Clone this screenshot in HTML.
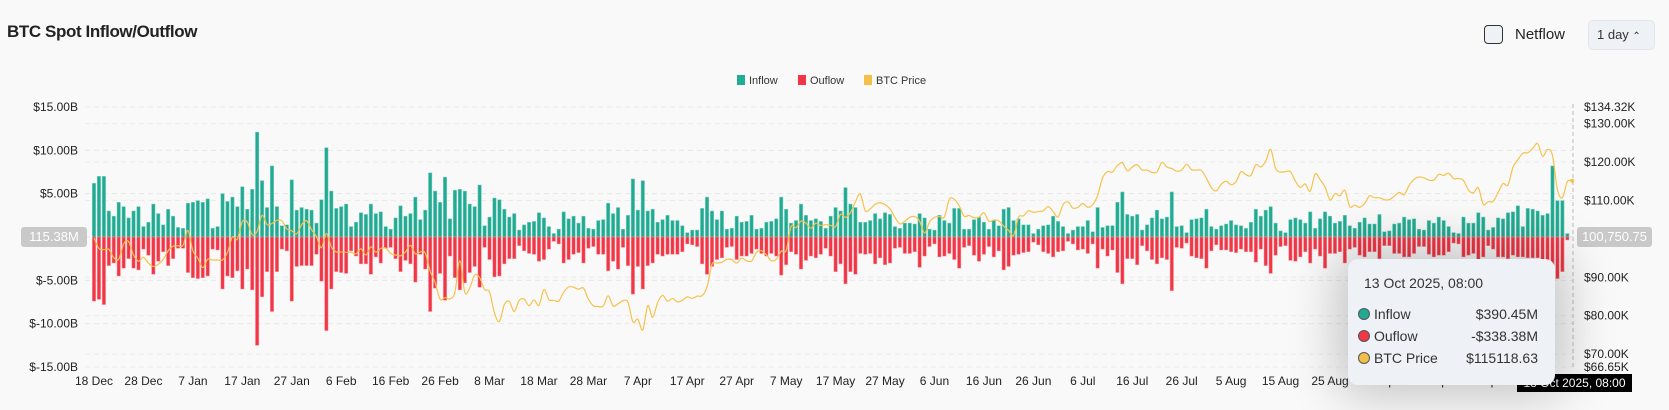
<!DOCTYPE html>
<html><head><meta charset="utf-8">
<style>
html,body{margin:0;padding:0;background:#f9f9f9;}
body{width:1669px;height:410px;position:relative;overflow:hidden;font-family:"Liberation Sans",sans-serif;color:#222;}
.abs{position:absolute;}
</style></head>
<body>
<div class="abs" style="left:7px;top:22px;font-size:17px;font-weight:bold;letter-spacing:-0.4px;">BTC Spot Inflow/Outflow</div>
<div class="abs" style="left:1484px;top:25px;width:17px;height:17px;border:1.5px solid #333;border-radius:4px;background:#eef1f5;"></div>
<div class="abs" style="left:1515px;top:26px;font-size:15px;color:#222;">Netflow</div>
<div class="abs" style="left:1588px;top:20px;width:67px;height:30px;background:#eef1f5;border-radius:5px;border:1px solid #e2e6ea;box-sizing:border-box;font-size:13px;line-height:28px;padding-left:8px;color:#333;">1 day <span style="font-size:10px;">⌃</span></div>

<svg class="abs" style="left:0;top:0" width="1669" height="410" id="chart">
  <g id="legend" font-size="11" fill="#333">
    <rect x="737" y="75" width="8" height="10" fill="#22ab94"/>
    <text x="749" y="84">Inflow</text>
    <rect x="798" y="75" width="8" height="10" fill="#f23645"/>
    <text x="810" y="84">Ouflow</text>
    <rect x="864" y="75" width="8" height="10" fill="#f2bf48"/>
    <text x="876" y="84">BTC Price</text>
  </g>
  <g id="grid"></g>
  <g id="axes" font-size="12" fill="#222"></g>
  <g id="bars"></g>
  <g id="line"></g>
  <g id="labels" font-size="12" fill="#222"></g>
</svg>

<div class="abs" style="left:21px;top:227px;width:66px;height:20px;background:#c9c9c9;border-radius:3px;color:#fff;font-size:13px;line-height:20px;text-align:center;">115.38M</div>
<div class="abs" style="left:1577px;top:227px;width:75px;height:20px;background:#c9c9c9;border-radius:3px;color:#fff;font-size:13px;line-height:20px;text-align:center;">100,750.75</div>
<div class="abs" style="left:1517px;top:374px;width:115px;height:18px;background:#000;color:#fff;font-size:12px;line-height:18px;text-align:center;">13 Oct 2025, 08:00</div>

<div class="abs" style="left:1348px;top:259px;width:207px;height:126px;background:#eef1f5;border-radius:10px;box-shadow:0 0 50px 10px rgba(0,0,0,0.22);font-size:14px;color:#333;">
  <div class="abs" style="left:16px;top:16px;">13 Oct 2025, 08:00</div>
  <div class="abs" style="left:10px;top:49px;width:10px;height:10px;border-radius:50%;background:#22ab94;border:1px solid #555;"></div>
  <div class="abs" style="left:26px;top:47px;">Inflow</div>
  <div class="abs" style="right:17px;top:47px;">$390.45M</div>
  <div class="abs" style="left:10px;top:71px;width:10px;height:10px;border-radius:50%;background:#f23645;border:1px solid #555;"></div>
  <div class="abs" style="left:26px;top:69px;">Ouflow</div>
  <div class="abs" style="right:17px;top:69px;">-$338.38M</div>
  <div class="abs" style="left:10px;top:93px;width:10px;height:10px;border-radius:50%;background:#f2bf48;border:1px solid #555;"></div>
  <div class="abs" style="left:26px;top:91px;">BTC Price</div>
  <div class="abs" style="right:17px;top:91px;">$115118.63</div>
</div>

<script>
const inflow = [6.2,7.0,7.0,3.0,2.4,4.0,3.5,2.2,3.0,3.5,1.2,1.7,3.8,2.7,1.4,3.2,2.4,1.1,1.0,3.9,4.0,4.2,4.0,4.4,1.0,1.2,5.0,4.1,4.6,3.5,5.8,3.2,5.5,12.1,6.5,3.4,8.2,3.5,1.3,1.4,6.6,3.1,3.4,3.2,3.1,1.6,4.3,10.3,5.3,3.3,3.5,3.8,1.2,1.7,2.8,2.6,3.8,2.7,2.9,1.2,0.9,2.2,3.6,2.4,2.7,4.6,
2.0,
3.1,7.4,5.3,4.0,6.9,2.1,5.4,5.5,5.3,3.8,3.5,6.0,1.3,2.3,4.5,4.3,3.2,2.3,2.7,0.8,1.4,1.7,1.8,2.8,2.2,1.2,0.4,0.9,2.9,2.1,2.4,1.6,2.4,1.0,0.9,1.9,2.0,3.9,2.7,3.4,0.9,2.5,6.7,3.1,6.5,3.0,3.2,1.7,2.0,2.5,1.9,1.9,1.3,0.5,0.8,0.8,3.3,4.6,3.0,2.0,3.0,0.9,1.0,2.4,1.7,1.8,2.5,
0.9,1.0,1.7,1.8,2.1,4.6,3.2,1.6,1.9,3.8,2.5,1.9,2.1,1.8,1.0,2.4,3.4,3.0,5.7,3.8,3.4,1.7,1.7,1.9,2.7,2.1,2.8,2.6,1.2,1.0,1.6,1.6,1.5,2.7,2.2,0.9,0.8,2.5,1.9,1.6,3.3,3.3,0.9,0.9,2.0,2.3,1.7,0.9,1.9,1.3,3.2,3.4,1.9,2.1,1.4,1.4,0.4,0.9,1.3,1.4,2.4,1.8,1.2,0.4,0.8,1.2,1.2,1.9,0.6,3.4,1.1,1.3,
1.3,4.0,5.2,2.6,2.4,2.6,0.8,1.4,2.2,3.1,2.1,2.3,5.2,1.2,1.3,0.5,2.0,2.1,2.2,3.2,1.2,0.9,1.3,1.5,1.9,1.4,1.3,
1.0,1.7,3.2,2.4,3.1,3.5,1.6,0.7,0.5,2.0,2.2,2.0,1.6,2.9,1.0,2.1,2.9,2.4,1.6,1.8,2.5,1.3,1.0,1.7,2.2,1.5,1.5,2.6,0.6,0.7,1.5,1.6,2.3,2.0,2.1,0.9,0.8,1.9,1.6,2.3,1.9,1.2,0.5,0.4,2.3,1.6,1.6,2.8,2.3,0.8,1.1,2.2,2.1,2.8,2.9,3.6,1.2,3.3,3.2,3.0,2.5,2.7,8.2,4.2,4.2,0.39];
const outflow = [7.4,7.2,7.8,3.3,3.0,4.5,3.6,2.5,3.6,3.8,1.4,2.1,4.3,2.8,1.7,3.3,2.5,1.3,1.3,4.1,4.7,4.8,4.7,4.5,1.4,1.5,6.0,4.5,4.7,3.9,6.0,3.7,6.1,12.5,6.9,4.0,8.6,4.0,1.4,1.6,7.4,3.4,3.3,3.3,3.3,2.0,5.1,10.8,6.0,4.0,4.1,4.2,1.6,2.2,3.1,3.1,4.3,2.3,3.0,1.3,1.2,2.5,4.0,2.7,3.1,5.2,
2.0,
3.7,8.6,5.9,4.2,7.3,2.2,4.7,6.1,5.3,4.1,3.4,5.8,1.2,2.6,4.6,4.5,3.1,2.5,2.5,1.0,1.6,1.9,2.0,2.8,2.6,1.4,0.5,0.8,3.0,2.6,2.0,1.8,3.0,1.3,1.1,2.0,2.0,3.9,2.8,3.7,1.2,3.3,6.6,3.4,6.0,3.3,3.0,2.0,2.2,2.0,2.0,2.0,1.7,0.8,0.9,1.1,3.1,4.3,3.4,2.6,2.4,1.2,1.1,2.6,2.2,2.2,1.9,
1.4,1.9,2.2,1.9,2.2,4.4,3.2,1.7,2.0,3.7,2.7,2.2,2.4,2.0,1.3,2.2,4.0,3.1,5.4,4.0,4.3,1.9,2.0,1.9,3.1,2.4,3.2,3.0,1.3,1.2,1.9,1.9,1.7,3.5,2.2,1.1,0.8,2.3,2.2,1.9,2.6,3.6,1.2,1.0,2.1,2.8,2.0,1.1,2.3,1.6,3.8,3.4,2.1,2.0,1.8,1.7,0.6,0.9,1.7,1.9,2.3,1.7,1.6,0.5,0.8,1.5,1.4,1.9,0.8,3.6,1.4,2.2,
1.5,4.1,5.4,2.5,2.5,3.2,1.0,1.6,2.6,3.1,2.4,2.6,6.2,1.2,1.3,0.7,2.2,2.4,2.5,3.6,1.6,0.9,1.5,1.5,1.7,1.8,1.4,
1.7,1.7,2.9,1.4,3.3,4.2,2.1,1.1,1.0,2.7,2.8,2.3,1.7,3.0,1.4,2.2,3.6,1.9,1.9,1.7,3.0,1.4,1.2,2.1,2.3,1.7,1.7,2.5,1.0,1.0,1.9,1.9,2.3,2.3,1.9,1.1,1.1,2.0,2.3,2.1,2.1,1.7,0.7,0.8,2.3,2.1,1.9,2.9,2.3,1.0,1.4,2.3,2.3,2.5,2.1,2.3,2.3,2.4,2.4,2.4,2.7,3.3,9.3,4.8,4.0,0.34];
const price = [100.2,97.5,97.2,97.3,95.1,94.7,98.7,99.3,95.8,94.2,
95.2,93.7,92.8,93.4,94.6,96.9,98.1,98.2,98.3,102.2,
96.9,95.0,92.5,94.7,94.5,94.5,94.5,96.5,100.5,99.9,
104.5,104.4,101.1,102.0,106.1,103.7,104.0,104.8,104.7,102.6,
102.1,101.3,103.7,104.7,102.4,100.6,97.7,101.4,97.9,96.6,
96.6,96.5,96.5,96.1,97.4,95.8,97.9,96.6,97.5,97.6,
96.2,95.8,95.6,96.6,98.3,96.1,96.6,96.3,91.6,88.6,
84.3,84.7,84.4,86.1,94.3,86.1,87.2,90.6,89.9,86.8,
86.2,80.7,78.5,82.9,83.7,81.1,84.0,84.3,82.6,84.1,
82.7,86.8,84.2,84.0,83.8,86.1,87.5,87.4,86.9,87.2,
84.3,82.6,82.4,82.5,85.2,82.5,83.1,83.9,83.5,78.4,
79.1,76.3,82.6,79.6,83.4,85.3,83.8,84.5,83.6,84.0,
84.9,84.5,85.1,85.2,87.5,93.4,93.7,93.9,94.7,94.6,
93.7,95.0,94.3,94.2,96.5,96.9,95.9,94.3,94.7,96.8,
97.0,103.2,102.9,104.6,104.1,102.8,104.1,103.5,103.7,103.5,
103.2,106.4,105.6,106.8,109.6,111.7,107.3,107.8,109.0,109.4,
108.9,107.8,105.6,103.9,104.6,105.6,105.8,104.6,101.5,104.4,
105.6,105.8,105.7,110.3,110.3,108.6,105.9,106.1,105.5,105.6,
106.8,104.6,104.9,104.7,103.3,102.2,100.9,105.6,106.0,107.3,
106.9,107.1,107.3,108.4,107.1,105.7,108.9,109.6,108.0,108.2,
109.2,108.2,108.9,111.3,115.9,117.5,117.4,119.1,119.8,117.7,
118.7,119.3,117.9,117.9,117.3,117.4,119.9,118.7,118.3,117.6,
117.9,119.4,118.0,117.9,117.8,115.8,113.3,112.5,114.2,115.0,
114.1,114.9,117.5,116.7,116.5,119.3,118.7,120.2,123.3,118.3,
117.4,117.5,117.5,115.0,113.4,114.3,112.4,116.9,115.4,113.5,
110.1,111.8,111.2,112.6,108.4,108.8,108.2,109.2,111.2,110.7,
110.7,110.2,110.2,111.1,112.1,111.5,113.9,115.5,116.1,115.9,
115.3,115.3,116.8,116.5,117.1,115.7,115.7,115.2,112.7,112.0,
113.3,109.0,109.7,109.7,112.1,114.4,114.0,118.6,120.6,122.3,
122.4,123.5,124.8,121.5,123.3,121.7,112.8,110.7,114.9,115.1];
const xTickLabels = ["18 Dec","28 Dec","7 Jan","17 Jan","27 Jan","6 Feb","16 Feb","26 Feb","8 Mar","18 Mar","28 Mar","7 Apr","17 Apr","27 Apr","7 May","17 May","27 May","6 Jun","16 Jun","26 Jun","6 Jul","16 Jul","26 Jul","5 Aug","15 Aug","25 Aug","4 Sep","14 Sep","24 Sep","4 Oct"];
const xTickDays = [0,10,20,30,40,50,60,70,80,90,100,110,120,130,140,150,160,170,180,190,200,210,220,230,240,250,260,270,280,290];
const leftTicks = [15,10,5,0,-5,-10,-15];
const leftTickLabels = ["$15.00B","$10.00B","$5.00B","","$-5.00B","$-10.00B","$-15.00B"];
const rightTicks = [134.32,130,120,110,90,80,70,66.65];
const rightTickLabels = ["$134.32K","$130.00K","$120.00K","$110.00K","$90.00K","$80.00K","$70.00K","$66.65K"];

const NS="http://www.w3.org/2000/svg";
const X0=94, DX=4.944, PL=85, PR=1573;
const xAt = i => X0 + i*DX;
const yL = v => 237 - v*(130/15);
const yR = v => 107 + (134.32 - v)*(260/67.67);
function mk(tag, attrs, parent){const e=document.createElementNS(NS,tag);for(const k in attrs)e.setAttribute(k,attrs[k]);parent.appendChild(e);return e;}

const grid=document.getElementById('grid'), axes=document.getElementById('axes');
leftTicks.forEach((t,i)=>{
  const y=yL(t);
  const g=mk('line',{x1:PL,x2:PR,y1:y,y2:y,stroke:'#e7e7e7','stroke-dasharray':'5,4'},grid);
  
  
  const tx=mk('text',{x:78,y:y+4,'text-anchor':'end'},axes);
  tx.textContent=leftTickLabels[i];
  
  
});
rightTicks.forEach((t,i)=>{
  const y=yR(t);
  const g=mk('line',{x1:PL,x2:PR,y1:y,y2:y,stroke:'#ececec','stroke-dasharray':'5,4'},grid);
  
  
  const tx=mk('text',{x:1584,y:y+4},axes);
  tx.textContent=rightTickLabels[i];
  
  
});
const vl=mk('line',{x1:PR,x2:PR,y1:104,y2:370,stroke:'#bbb','stroke-dasharray':'4,3'},grid);


xTickLabels.forEach((l,i)=>{
  const tx=mk('text',{x:xAt(xTickDays[i]),y:385,'text-anchor':'middle'},axes);
  tx.textContent=l;
  
  
});

const bars=document.getElementById('bars');
const BW=3.4, y0=yL(0);
inflow.forEach((v,i)=>{
  const y=yL(v);
  const r=mk('rect',{x:xAt(i)-BW/2,y:y,width:BW,height:y0-y,fill:'#22ab94',stroke:'rgba(120,205,185,0.8)','stroke-width':0.6},bars);
  
  
});
outflow.forEach((v,i)=>{
  const y=yL(-v);
  const r=mk('rect',{x:xAt(i)-BW/2,y:y0,width:BW,height:y-y0,fill:'#f23645',stroke:'rgba(245,150,160,0.8)','stroke-width':0.6},bars);
  
  
});

const pts=price.map((p,i)=>[xAt(i),yR(p)]);
let d='M'+pts[0][0]+','+pts[0][1];
for(let i=0;i<pts.length-1;i++){
  const p0=pts[Math.max(0,i-1)],p1=pts[i],p2=pts[i+1],p3=pts[Math.min(pts.length-1,i+2)];
  const c1x=p1[0]+(p2[0]-p0[0])/6,c1y=p1[1]+(p2[1]-p0[1])/6;
  const c2x=p2[0]-(p3[0]-p1[0])/6,c2y=p2[1]-(p3[1]-p1[1])/6;
  d+=' C'+c1x.toFixed(2)+','+c1y.toFixed(2)+' '+c2x.toFixed(2)+','+c2y.toFixed(2)+' '+p2[0].toFixed(2)+','+p2[1].toFixed(2);
}
const line=mk('path',{d:d,fill:'none',stroke:'#f5c24c','stroke-width':1.2},document.getElementById('line'));


const last=pts[pts.length-1];
const dot=mk('circle',{cx:last[0],cy:last[1],r:2,fill:'#f5c24c'},document.getElementById('line'));


</script>
</body></html>
